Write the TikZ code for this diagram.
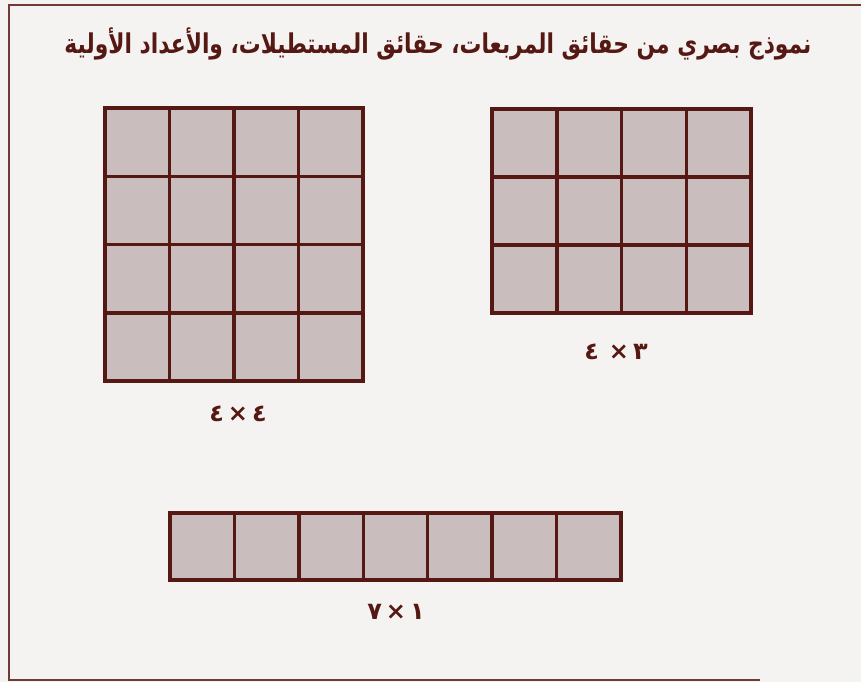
\documentclass[tikz,border=0pt]{standalone}
\usepackage{fontspec}
\newfontfamily\arabicfont[Script=Arabic]{DejaVu Sans}
\TeXXeTstate=1
\definecolor{bgc}{HTML}{F5F3F1}
\definecolor{framec}{HTML}{6E3B36}
\definecolor{linec}{HTML}{561812}
\definecolor{cellc}{HTML}{C9BEBD}
\definecolor{textc}{HTML}{561812}
\tikzset{
  gridline/.style={draw=linec, line width=3.5pt},
  cellfill/.style={fill=cellc},
  titletext/.style={text=textc, font=\arabicfont\bfseries\fontsize{26}{30}\selectfont, inner sep=0pt},
  labeltext/.style={text=textc, font=\arabicfont\bfseries\fontsize{24}{28}\selectfont, inner sep=0pt}
}
\begin{document}
\begin{tikzpicture}[x=1pt,y=-1pt]
\useasboundingbox (0,0) rectangle (861,682);
\fill[bgc] (0,0) rectangle (861,682);
\draw[framec, line width=2pt] (760,680) -- (9,680) -- (9,5) -- (861,5);
% title
\node[titletext] (title) at (438,44) {\scalebox{1}[1.25]{\resizebox{747pt}{!}{\beginR نموذج بصري من حقائق المربعات، حقائق المستطيلات، والأعداد الأولية\endR}}};
% grid 1: 4x4
\fill[cellfill] (105,108) rectangle (363,381);
\foreach \i in {1,2,3} {
  \draw[gridline] ({105+\i*64.5},108) -- ({105+\i*64.5},381);
  \draw[gridline] (105,{108+\i*68.25}) -- (363,{108+\i*68.25});
}
\draw[gridline] (105,108) rectangle (363,381);
% grid 2: 4x3
\fill[cellfill] (492,109) rectangle (751,313);
\foreach \i in {1,2,3} {
  \draw[gridline] ({492+\i*64.75},109) -- ({492+\i*64.75},313);
}
\foreach \i in {1,2} {
  \draw[gridline] (492,{109+\i*68}) -- (751,{109+\i*68});
}
\draw[gridline] (492,109) rectangle (751,313);
% grid 3: 7x1
\fill[cellfill] (170,513) rectangle (621,580);
\foreach \i in {1,...,6} {
  \draw[gridline] ({170+\i*64.43},513) -- ({170+\i*64.43},580);
}
\draw[gridline] (170,513) rectangle (621,580);
% labels
\node[labeltext] (lab1) at (238,414) {\beginL ٤\,×\,٤\endL};
\node[labeltext] (lab2) at (616,352) {\beginL ٤\hspace{10pt}×\,٣\endL};
\node[labeltext] (lab3) at (396,612) {\beginL ٧\,×\,١\endL};
\end{tikzpicture}
\end{document}
